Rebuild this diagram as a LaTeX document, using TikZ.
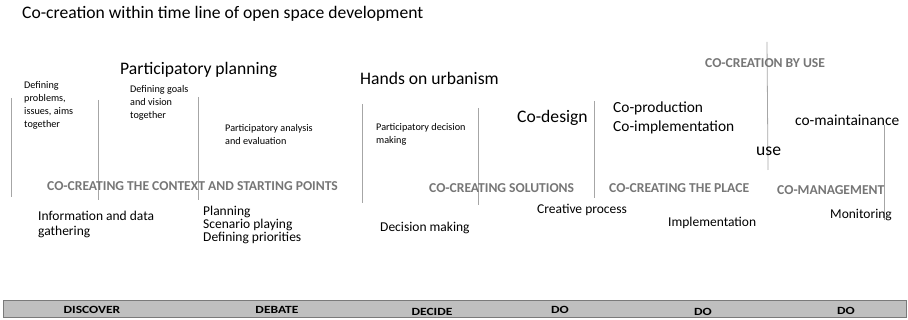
\documentclass[tikz,border=0pt]{standalone}
\usepackage{fontspec}
\setmainfont{Carlito}
\definecolor{headgray}{HTML}{767676}
\definecolor{linegray}{HTML}{A6A6A6}
\definecolor{barfill}{HTML}{BFBFBF}
\definecolor{barline}{HTML}{7A7A7A}
\newcommand{\barword}[1]{\scalebox{1.23}[1]{#1}}
\tikzset{
  txt/.style={inner sep=0pt, anchor=west, align=left, text=black},
  big/.style={txt, font=\fontsize{17.6}{20}\selectfont},
  mid/.style={txt, font=\fontsize{15.4}{19}\selectfont},
  norm/.style={txt, font=\fontsize{13.5}{15}\selectfont},
  small/.style={txt, font=\fontsize{10.2}{13}\selectfont},
  head/.style={inner sep=0pt, anchor=west, text=headgray, font=\fontsize{13.6}{15}\selectfont\bfseries},
  divider/.style={draw=linegray, line width=0.8pt},
  barbox/.style={draw=barline, fill=barfill, line width=1pt, minimum width=903pt, minimum height=17pt, inner sep=0pt},
  barlab/.style={inner sep=0pt, font=\fontsize{11}{13}\selectfont\bfseries, text=black}
}
\begin{document}
\begin{tikzpicture}[x=1pt,y=-1pt]
\useasboundingbox (0,0) rectangle (908,320);

% title
\node[big] (title) at (22,14) {Co-creation within time line of open space development};

% vertical dividers
\coordinate (d1t) at (11,98);  \coordinate (d1b) at (11,197);
\coordinate (d2t) at (98,100); \coordinate (d2b) at (98,200);
\coordinate (d3t) at (198,97); \coordinate (d3b) at (198,200);
\coordinate (d4t) at (362,104); \coordinate (d4b) at (362,203);
\coordinate (d5t) at (478,108); \coordinate (d5b) at (478,205);
\coordinate (d6t) at (594,101); \coordinate (d6b) at (594,198);
\coordinate (d7t) at (767,42); \coordinate (d7b) at (768,170);
\coordinate (d8t) at (884,125); \coordinate (d8b) at (884,220);
\foreach \i in {1,...,8} { \draw[divider] (d\i t) -- (d\i b); }

% upper texts
\node[small] (dp) at (24,105) {Defining\\problems,\\issues, aims\\together};
\node[big] (pp) at (120,70) {Participatory planning};
\node[small] (dg) at (130,103) {Defining goals\\and vision\\together};
\node[small] (pa) at (225,134.5) {Participatory analysis\\and evaluation};
\node[big] (hu) at (360,78) {Hands on urbanism};
\node[small] (pd) at (376,134.5) {Participatory decision\\making};
\node[big] (cd) at (517,118) {Co-design};
\node[mid] (cp) at (613,117.5) {Co-production\\Co-implementation};
\node[head] (cbu) at (705,63) {CO-CREATION BY USE};
\node[mid] (cm) at (795,120) {co-maintainance};
\node[big] (use) at (756,151) {use};

% headings
\node[head] (h1) at (47,186) {CO-CREATING THE CONTEXT AND STARTING POINTS};
\node[head] (h2) at (429,188) {CO-CREATING SOLUTIONS};
\node[head] (h3) at (609,188) {CO-CREATING THE PLACE};
\node[head] (h4) at (777,190) {CO-MANAGEMENT};

% lower texts
\node[norm] (idg) at (38,224.5) {Information and data\\gathering};
\node[norm, font=\fontsize{13.5}{13.3}\selectfont] (pl) at (203,225) {Planning\\Scenario playing\\Defining priorities};
\node[norm] (dm) at (380,228) {Decision making};
\node[norm] (crp) at (537,210) {Creative process};
\node[norm] (imp) at (668,223) {Implementation};
\node[norm] (mon) at (830,215) {Monitoring};

% bottom bar
\node[barbox] (bar) at (454.5,309.5) {};
\node[barlab] (b1) at (92,309.5) {\barword{DISCOVER}};
\node[barlab] (b2) at (277,309.5) {\barword{DEBATE}};
\node[barlab] (b3) at (432,311.5) {\barword{DECIDE}};
\node[barlab] (b4) at (560,309.5) {\barword{DO}};
\node[barlab] (b5) at (703,311.5) {\barword{DO}};
\node[barlab] (b6) at (846,310.5) {\barword{DO}};
\end{tikzpicture}
\end{document}
